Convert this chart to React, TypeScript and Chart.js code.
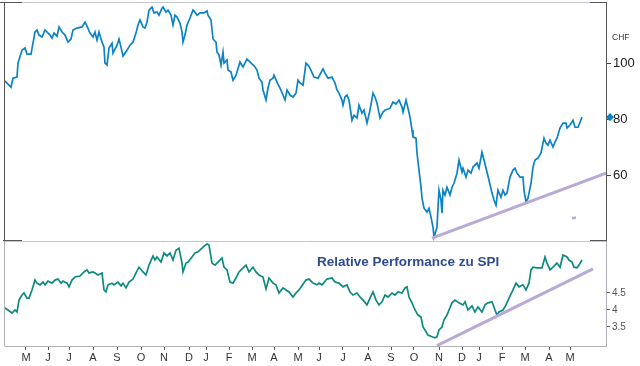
import React, { useEffect, useRef } from 'react';
import { Chart, registerables } from 'chart.js';

Chart.register(...registerables);

const FONT = "'Liberation Sans', Arial, sans-serif";

// x unit: trading-day index from start of the chart
const monthLabels = ['M', 'J', 'J', 'A', 'S', 'O', 'N', 'D', 'J', 'F', 'M', 'A', 'M', 'J', 'J', 'A', 'S', 'O', 'N', 'D', 'J', 'F', 'M', 'A', 'M'];
const monthTickDays = [21, 43, 64, 88, 112, 136, 159, 184, 201, 224, 247, 269, 293, 314, 338, 363, 386, 409, 434, 457, 474, 497, 520, 544, 565];
const dayMin = 0;
const dayMax = 601;

const priceDays = [0, 6, 8, 12, 13, 17, 20, 22, 26, 28, 30, 32, 34, 37, 40, 45, 47, 49, 52, 54, 57, 60, 63, 66, 68, 72, 77, 80, 82, 85, 88, 90, 92, 94, 97, 99, 100, 102, 104, 107, 108, 112, 114, 116, 118, 122, 125, 128, 131, 133, 135, 138, 140, 142, 144, 147, 149, 152, 154, 157, 158, 161, 163, 166, 168, 170, 172, 175, 177, 178, 180, 182, 185, 188, 190, 192, 195, 199, 202, 203, 206, 208, 211, 212, 214, 216, 218, 219, 222, 223, 226, 228, 231, 235, 238, 242, 245, 250, 252, 254, 257, 258, 261, 263, 265, 268, 269, 272, 275, 278, 280, 282, 285, 288, 291, 293, 295, 298, 301, 303, 305, 309, 313, 318, 320, 323, 327, 330, 332, 334, 337, 338, 340, 342, 344, 347, 349, 352, 354, 357, 359, 362, 365, 368, 370, 372, 375, 378, 380, 385, 388, 391, 394, 397, 398, 401, 403, 405, 407, 408, 411, 412, 414, 416, 417, 419, 422, 424, 426, 428, 429, 432, 433, 434, 436, 437, 438, 440, 442, 445, 447, 449, 452, 454, 457, 458, 461, 463, 466, 468, 472, 474, 477, 479, 482, 484, 487, 489, 491, 493, 496, 498, 500, 502, 505, 508, 510, 512, 515, 518, 519, 521, 523, 526, 528, 530, 533, 536, 539, 541, 543, 545, 548, 550, 552, 555, 558, 561, 562, 565, 568, 570, 573, 575, 577];
const priceValues = [93.6, 91.4, 94.6, 95.0, 100.0, 104.6, 105.4, 103.2, 103.2, 107.1, 111.1, 111.8, 110.0, 109.3, 111.8, 110.0, 108.9, 110.7, 109.6, 112.9, 111.1, 110.0, 107.5, 108.6, 111.8, 112.5, 112.9, 114.6, 113.2, 110.7, 109.3, 111.1, 108.2, 111.1, 107.5, 105.7, 100.0, 99.3, 105.4, 107.1, 103.6, 106.4, 108.6, 105.7, 102.5, 104.6, 106.4, 107.5, 110.7, 113.6, 115.4, 112.9, 112.5, 114.6, 118.9, 120.0, 117.9, 118.2, 117.1, 119.6, 120.0, 118.2, 118.9, 117.1, 113.6, 117.1, 116.4, 114.3, 111.1, 107.5, 110.0, 113.6, 116.1, 118.9, 118.2, 117.1, 117.9, 117.9, 118.6, 117.1, 115.4, 108.6, 107.5, 103.9, 102.9, 99.3, 103.9, 100.0, 101.1, 97.5, 96.8, 93.9, 95.7, 100.4, 98.6, 101.4, 100.4, 98.6, 97.5, 94.6, 93.2, 90.4, 86.8, 91.1, 93.9, 94.6, 95.7, 93.2, 91.1, 88.6, 86.8, 90.4, 88.6, 87.9, 89.3, 93.9, 92.9, 92.1, 100.0, 99.3, 98.2, 95.0, 94.6, 97.9, 96.4, 94.6, 95.0, 92.9, 90.4, 89.3, 86.8, 85.0, 87.9, 88.6, 86.8, 79.6, 81.4, 80.4, 85.0, 82.1, 83.2, 78.6, 83.2, 89.3, 87.9, 85.7, 80.4, 82.5, 83.2, 83.9, 86.1, 85.4, 86.8, 84.3, 82.5, 86.8, 83.9, 80.7, 76.1, 73.6, 73.2, 67.9, 61.8, 55.7, 51.8, 48.2, 46.8, 48.2, 45.0, 41.4, 37.9, 41.4, 48.6, 54.6, 51.1, 46.4, 54.6, 52.9, 55.7, 52.9, 55.7, 57.1, 60.7, 65.4, 61.1, 62.5, 59.3, 61.8, 60.7, 62.9, 64.3, 62.5, 68.2, 65.4, 61.1, 58.2, 53.6, 51.1, 49.3, 54.6, 52.1, 54.6, 52.9, 53.6, 59.3, 61.8, 62.5, 60.7, 59.3, 59.3, 54.6, 50.4, 51.8, 57.1, 62.9, 65.4, 66.1, 67.9, 73.2, 71.4, 70.7, 72.5, 70.0, 71.8, 73.2, 76.8, 78.6, 78.6, 76.8, 77.9, 79.6, 77.1, 77.1, 78.9, 80.7];

const relDays = [0, 3, 7, 10, 12, 14, 17, 19, 22, 24, 27, 30, 32, 35, 38, 40, 43, 47, 50, 53, 56, 58, 62, 64, 67, 70, 75, 79, 82, 84, 88, 90, 93, 97, 99, 101, 103, 107, 109, 113, 116, 118, 121, 124, 128, 131, 134, 138, 141, 144, 148, 150, 152, 156, 159, 162, 165, 168, 171, 174, 177, 178, 181, 183, 187, 190, 193, 197, 199, 202, 204, 207, 210, 213, 217, 219, 222, 225, 228, 231, 234, 238, 241, 244, 248, 251, 254, 258, 261, 264, 268, 271, 274, 278, 281, 284, 288, 291, 294, 298, 301, 304, 308, 312, 314, 317, 322, 327, 330, 334, 338, 342, 345, 348, 352, 355, 358, 362, 365, 368, 371, 374, 377, 380, 383, 387, 390, 393, 397, 400, 402, 404, 407, 410, 413, 416, 418, 420, 423, 427, 430, 432, 434, 437, 439, 442, 444, 447, 450, 454, 458, 460, 463, 467, 470, 473, 477, 480, 483, 487, 490, 492, 494, 498, 501, 504, 508, 511, 514, 518, 521, 524, 526, 528, 532, 537, 540, 542, 545, 548, 552, 555, 558, 562, 564, 567, 569, 572, 574, 577];
const relValues = [4.06, 4.0, 3.91, 4.0, 3.94, 4.29, 4.44, 4.5, 4.35, 4.35, 4.59, 4.88, 4.79, 4.74, 4.82, 4.74, 4.85, 4.79, 4.88, 4.91, 4.79, 4.85, 4.79, 4.68, 4.88, 4.97, 5.0, 5.12, 5.18, 5.09, 5.12, 5.09, 5.03, 5.09, 4.59, 4.53, 4.74, 4.79, 4.74, 4.82, 4.71, 4.79, 4.65, 4.82, 4.91, 5.09, 5.26, 5.12, 5.03, 5.32, 5.59, 5.47, 5.56, 5.41, 5.68, 5.59, 5.68, 5.47, 5.76, 5.82, 5.38, 5.12, 5.38, 5.41, 5.56, 5.68, 5.71, 5.82, 5.88, 5.94, 5.91, 5.38, 5.32, 5.41, 5.53, 5.26, 5.18, 4.82, 4.79, 4.94, 5.12, 5.24, 5.32, 5.12, 5.26, 5.12, 5.03, 4.97, 4.62, 4.94, 4.79, 4.74, 4.5, 4.65, 4.59, 4.53, 4.38, 4.5, 4.59, 4.76, 4.88, 4.91, 4.79, 4.74, 4.79, 4.74, 4.91, 4.94, 4.82, 4.79, 4.68, 4.74, 4.53, 4.44, 4.5, 4.38, 4.29, 4.15, 4.35, 4.53, 4.29, 4.15, 4.24, 4.44, 4.38, 4.5, 4.44, 4.53, 4.5, 4.65, 4.68, 4.38, 4.21, 4.0, 3.85, 3.79, 3.5, 3.41, 3.26, 3.21, 3.18, 3.21, 3.41, 3.5, 3.71, 3.85, 4.0, 4.21, 4.29, 4.21, 4.15, 4.24, 4.0, 4.12, 3.94, 4.09, 3.94, 4.15, 4.21, 4.24, 4.0, 3.85, 3.94, 4.0, 4.15, 4.35, 4.59, 4.79, 4.68, 4.74, 4.59, 4.79, 5.18, 5.26, 5.24, 5.24, 5.56, 5.38, 5.18, 5.26, 5.38, 5.26, 5.62, 5.56, 5.47, 5.41, 5.26, 5.24, 5.32, 5.47];

const priceTrendDays = [427, 601];
const priceTrendValues = [37.5, 60.7];
const stubDays = [567, 571];
const stubValues = [44.6, 44.9];
const relTrendDays = [432, 588];
const relTrendValues = [2.95, 5.21];
const lastMarkerDay = 605;

const priceTicks = [60, 80, 100];
const relTicks = [3.5, 4, 4.5];
const priceMin = 36.5;
const priceMax = 121.8;
const relMin = 2.94;
const relMax = 6.03;

const BLUE = '#0b83c5';
const TEAL = '#0d8a80';
const LAVENDER = '#b9a9d5';

const pts = (xs: number[], ys: number[]) => xs.map((x, i) => ({ x, y: ys[i] }));

const framePlugin = {
  id: 'frame',
  afterDraw(chart: any) {
    const { ctx, chartArea } = chart;
    const top = chart.scales.yTop;
    const left = chartArea.left;
    const right = chartArea.right;
    const divY = Math.round(top.bottom) + 0.5;
    const topY = Math.round(chartArea.top) + 0.5;
    const botY = Math.round(chartArea.bottom) + 0.5;
    ctx.save();
    ctx.lineWidth = 1;
    ctx.strokeStyle = '#c6c6ce';
    ctx.beginPath();
    ctx.moveTo(left, topY); ctx.lineTo(right, topY);
    ctx.moveTo(left, divY); ctx.lineTo(right, divY);
    ctx.stroke();
    ctx.strokeStyle = '#b0b0b8';
    ctx.beginPath();
    ctx.moveTo(left - 0.5, divY); ctx.lineTo(left - 0.5, botY);
    ctx.stroke();
    ctx.strokeStyle = '#555555';
    ctx.beginPath();
    ctx.moveTo(left - 0.5, topY); ctx.lineTo(left - 0.5, divY);
    ctx.moveTo(0, topY); ctx.lineTo(left + 17, topY);
    ctx.moveTo(left - 2, divY - 1); ctx.lineTo(left + 17, divY - 1);
    ctx.moveTo(right - 16, topY); ctx.lineTo(right, topY);
    ctx.moveTo(right - 16, divY - 1); ctx.lineTo(right + 1, divY - 1);
    ctx.stroke();
    ctx.fillStyle = '#333333';
    ctx.font = `8.5px ${FONT}`;
    ctx.textAlign = 'left';
    ctx.textBaseline = 'middle';
    ctx.fillText('CHF', right + 6, chartArea.top + 36);
    const bot = chart.scales.yBot;
    ctx.fillStyle = '#2f4c8f';
    ctx.font = `bold 13.5px ${FONT}`;
    ctx.fillText('Relative Performance zu SPI', left + 312, bot.top + 21);
    ctx.restore();
  },
};

export default function App() {
  const ref = useRef<HTMLCanvasElement>(null);
  useEffect(() => {
    const canvas = ref.current!;
    const chart = new Chart(canvas, {
      type: 'line',
      data: {
        datasets: [
          {
            data: pts(priceTrendDays, priceTrendValues),
            yAxisID: 'yTop',
            borderColor: LAVENDER,
            borderWidth: 3,
            pointRadius: 0,
          },
          {
            data: pts(stubDays, stubValues),
            yAxisID: 'yTop',
            borderColor: LAVENDER,
            borderWidth: 2.5,
            pointRadius: 0,
          },
          {
            data: pts(priceDays, priceValues),
            yAxisID: 'yTop',
            borderColor: BLUE,
            borderWidth: 1.7,
            pointRadius: 0,
          },
          {
            data: [{ x: lastMarkerDay, y: priceValues[priceValues.length - 1] }],
            yAxisID: 'yTop',
            showLine: false,
            pointStyle: 'rectRot',
            pointRadius: 3,
            backgroundColor: BLUE,
            borderColor: BLUE,
            borderWidth: 1.5,
            clip: false,
          },
          {
            data: pts(relTrendDays, relTrendValues),
            yAxisID: 'yBot',
            borderColor: LAVENDER,
            borderWidth: 3,
            pointRadius: 0,
          },
          {
            data: pts(relDays, relValues),
            yAxisID: 'yBot',
            borderColor: TEAL,
            borderWidth: 1.7,
            pointRadius: 0,
          },
        ],
      },
      options: {
        responsive: false,
        animation: false,
        devicePixelRatio: 1,
        layout: { autoPadding: false, padding: { left: 5, top: 2, right: 0, bottom: 0 } },
        plugins: { legend: { display: false }, tooltip: { enabled: false } },
        elements: { line: { tension: 0 } },
        scales: {
          x: {
            type: 'linear',
            position: 'bottom',
            min: dayMin,
            max: dayMax,
            grid: { drawOnChartArea: false, drawTicks: true, tickLength: 4, tickColor: '#555' },
            border: { display: true, color: '#b0b0b8' },
            ticks: {
              autoSkip: false,
              maxRotation: 0,
              padding: 1,
              color: '#333',
              font: { family: FONT, size: 11 },
              callback: (_v: any, i: number) => monthLabels[i],
            },
            afterBuildTicks: (s: any) => {
              s.ticks = monthTickDays.map((v) => ({ value: v }));
            },
            afterFit: (s: any) => {
              s.height = 20;
              s.paddingLeft = 0;
              s.paddingRight = 0;
            },
          },
          yTop: {
            type: 'linear',
            position: 'right',
            stack: 'panels',
            stackWeight: 239,
            min: priceMin,
            max: priceMax,
            grid: { drawOnChartArea: false, drawTicks: true, tickLength: 5, tickColor: '#444' },
            border: { display: true, color: '#555' },
            ticks: { padding: 2, color: '#222', font: { family: FONT, size: 13 } },
            afterBuildTicks: (s: any) => {
              s.ticks = priceTicks.map((v) => ({ value: v }));
            },
            afterFit: (s: any) => {
              s.width = 34;
              s.paddingTop = 0;
              s.paddingBottom = 0;
            },
          },
          yBot: {
            type: 'linear',
            position: 'right',
            stack: 'panels',
            stackWeight: 105,
            min: relMin,
            max: relMax,
            grid: { drawOnChartArea: false, drawTicks: true, tickLength: 4, tickColor: '#666' },
            border: { display: true, color: '#b0b0b8' },
            ticks: {
              padding: 2,
              color: '#555',
              font: { family: FONT, size: 10 },
              callback: (v: any) => String(v),
            },
            afterBuildTicks: (s: any) => {
              s.ticks = relTicks.map((v) => ({ value: v }));
            },
            afterFit: (s: any) => {
              s.width = 34;
              s.paddingTop = 0;
              s.paddingBottom = 0;
            },
          },
        },
      },
      plugins: [framePlugin],
    } as any);
    return () => chart.destroy();
  }, []);
  return (
    <canvas
      ref={ref}
      width={640}
      height={366}
      style={{ position: 'fixed', left: 0, top: 0, display: 'block' }}
    />
  );
}
